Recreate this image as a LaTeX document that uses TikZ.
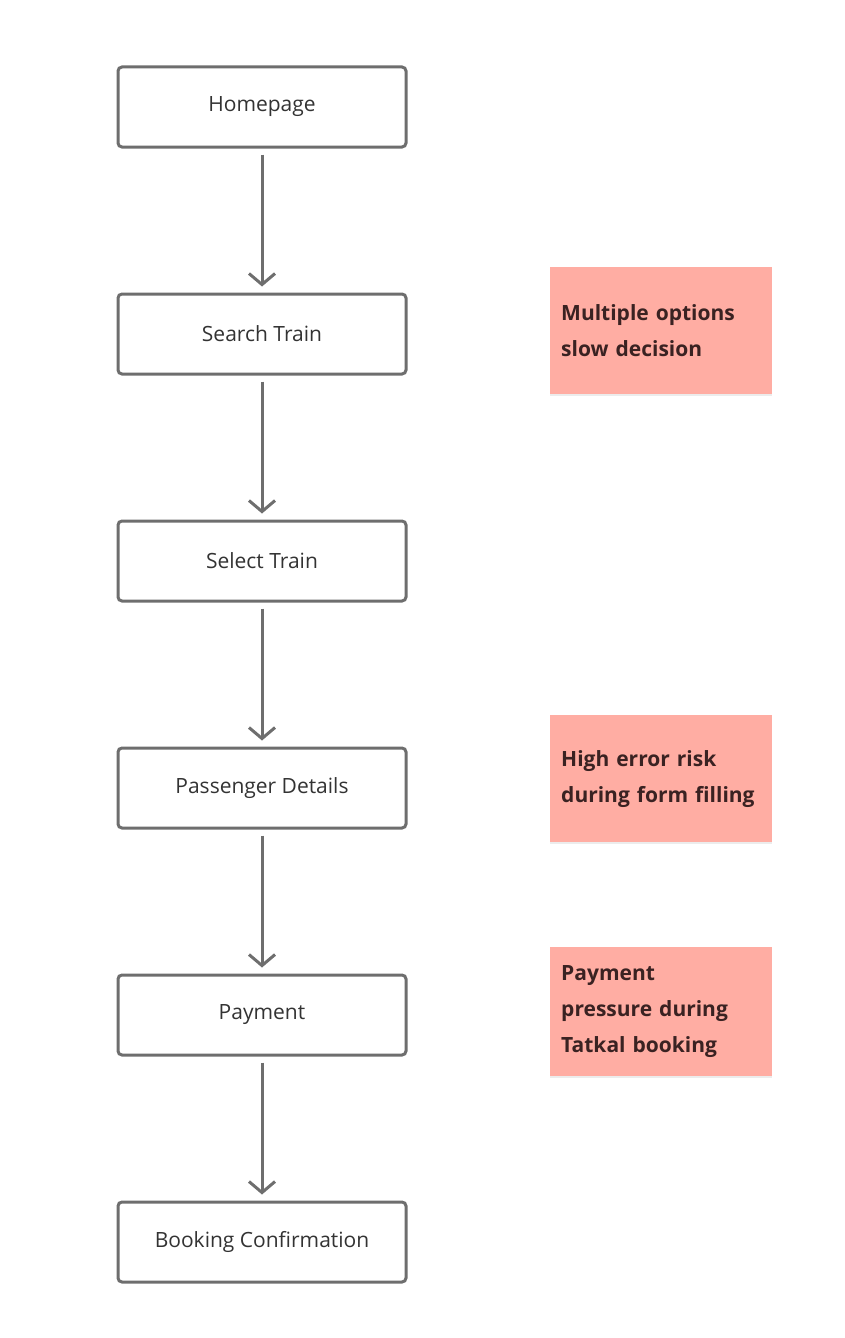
\documentclass[tikz,border=0pt]{standalone}
\usepackage{fontspec}
\setmainfont{Open Sans}
\usetikzlibrary
  {
    arrows.meta,              % open arrow heads
    positioning,              % place nodes relative to other nodes
    shadows,                  % soft shadow under the notes
  }
\definecolor{stepgray}{HTML}{6E6E6E}
\definecolor{notepink}{HTML}{FFADA3}
\definecolor{notetext}{HTML}{3A2222}

\begin{document}
\begin{tikzpicture}
    [
      x=1pt, y=1pt,
      node distance=144pt,
      flowstep/.style=
        {
          rectangle,
          rounded corners=4pt,
          minimum width=288pt,
          minimum height=80pt,
          line width=3pt,
          draw=stepgray,
          fill=white,
          font=\fontsize{21}{25}\selectfont,
          text=black!80,
        },
      note/.style=
        {
          rectangle,
          anchor=north west,
          fill=notepink,
          minimum width=222pt,
          text width=200pt,
          inner sep=11pt,
          align=left,
          font=\bfseries\fontsize{21}{36}\selectfont,
          text=notetext,
          drop shadow={opacity=0.15, shadow xshift=0pt, shadow yshift=-2pt},
        },
      flow/.style=
        {
          line width=3pt,
          draw=stepgray,
          shorten <=6pt,
          shorten >=6pt,
          -{Straight Barb[length=11pt, width=26pt, line width=3pt]},
        }
    ]
    \useasboundingbox (0,0) rectangle (844,-1338);

    \node (home) [flowstep] at (262,-107) {Homepage};
    \node (search) [flowstep, below=of home] {Search Train};
    \node (select) [flowstep, below=of search] {Select Train};
    \node (passenger) [flowstep, below=of select] {Passenger Details};
    \node (payment) [flowstep, below=of passenger] {Payment};
    \node (confirm) [flowstep, below=of payment] {Booking Confirmation};

    \foreach \a/\b in {home/search, search/select, select/passenger,
                       passenger/payment, payment/confirm}
      \draw [flow] (\a) -- (\b);

    % pain points
    \node (optionsnote) [note, minimum height=127pt] at (550,-267)
      {Multiple options\\slow decision};
    \node (errornote) [note, minimum height=127pt] at (550,-715)
      {High error risk\\during form filling};
    \node (tatkalnote) [note, minimum height=129pt] at (550,-947)
      {Payment\\pressure during\\Tatkal booking};
  \end{tikzpicture}
\end{document}
